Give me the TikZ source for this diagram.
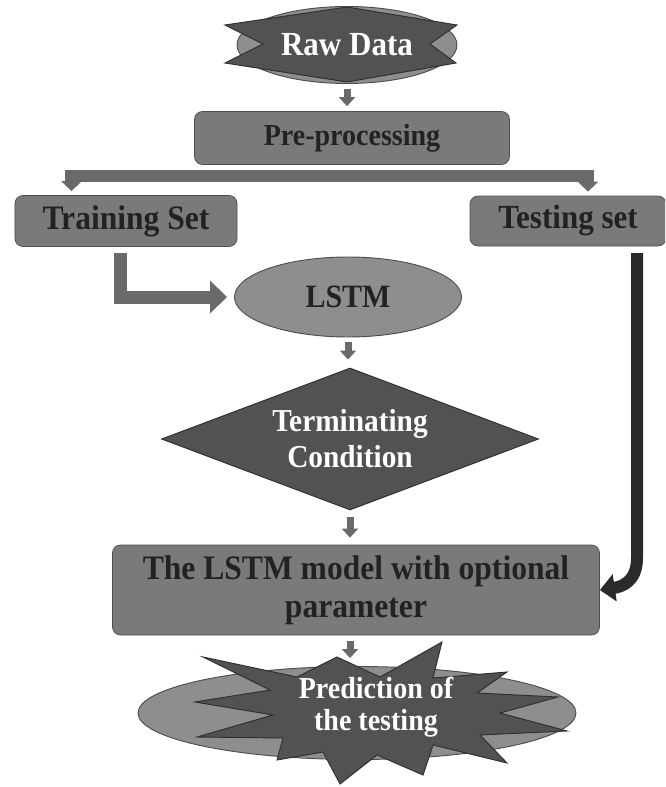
\documentclass[tikz,border=0pt]{standalone}
\usepackage{fontspec}
\setmainfont[FakeStretch=0.92]{Liberation Serif}
\usetikzlibrary{arrows.meta,shapes.geometric}

\definecolor{boxgray}{HTML}{7A7A7A}
\definecolor{edgegray}{HTML}{4E4E4E}
\definecolor{ovalgray}{HTML}{8E8E8E}
\definecolor{stargray}{HTML}{525252}
\definecolor{arrowgray}{HTML}{6A6A6A}
\definecolor{darkarrow}{HTML}{2A2A2A}
\definecolor{textdark}{HTML}{222222}

\begin{document}
\begin{tikzpicture}[x=0.03cm, y=-0.03cm,
  box/.style={draw=edgegray, fill=boxgray, rounded corners=0.24cm, line width=0.6pt,
    text=textdark, align=center, inner sep=0pt},
  oval/.style={ellipse, draw=edgegray, fill=ovalgray, line width=0.8pt, inner sep=0pt},
  burst/.style={draw=edgegray!60!black, fill=stargray, line width=0.8pt, line join=miter},
  whitetext/.style={text=white, align=center, inner sep=0pt},
  smallarrow/.style={draw=arrowgray, line width=0.21cm, -{Triangle[width=0.48cm,length=0.27cm]}},
  splitarrow/.style={draw=arrowgray, line width=0.36cm, -{Triangle[width=0.6cm,length=0.3cm]}},
  elbowarrow/.style={draw=arrowgray, line width=0.39cm, -{Triangle[width=0.96cm,length=0.51cm]}},
  curvearrow/.style={draw=darkarrow, line width=0.36cm, -{Triangle[width=0.8cm,length=0.45cm]}}
]
  \useasboundingbox (0,0) rectangle (665,787);
  \clip (0,0) rectangle (665,787);

  \node[oval, minimum width=6.6cm, minimum height=2.31cm] (rawoval) at (347,45) {};
  \filldraw[burst] (225,25) -- (347,7) -- (457,25) -- (430,44) -- (456,63) -- (347,82)
    -- (225,63) -- (263,44) -- cycle;
  \node[whitetext, font=\bfseries\fontsize{28.8}{34}\selectfont] (raw) at (347,45) {Raw Data};

  \node[box, minimum width=9.45cm, minimum height=1.59cm,
    font=\bfseries\fontsize{26}{31}\selectfont] (pre) at (352,138) {Pre-processing};
  \node[box, minimum width=6.66cm, minimum height=1.53cm,
    font=\bfseries\fontsize{29.3}{34}\selectfont] (train) at (126,221) {Training Set};
  \node[box, minimum width=5.88cm, minimum height=1.5cm,
    font=\bfseries\fontsize{28.8}{34}\selectfont] (test) at (568,221) {Testing set};

  \node[oval, minimum width=6.81cm, minimum height=2.4cm, text=textdark,
    font=\bfseries\fontsize{27.8}{33}\selectfont] (lstm) at (348,297) {LSTM};

  \node[diamond, aspect=2.65, draw=edgegray!60!black, fill=stargray, line width=0.8pt,
    minimum width=11.31cm, minimum height=4.26cm, whitetext,
    font=\bfseries\fontsize{27.2}{30.7}\selectfont] (cond) at (350,439) {Terminating\\Condition};

  \node[box, minimum width=14.61cm, minimum height=2.7cm,
    font=\bfseries\fontsize{29.3}{32.4}\selectfont] (model) at (356,590)
    {The LSTM model with optional\\parameter};

  \node[oval, minimum width=13.14cm, minimum height=2.79cm] (predoval) at (357,713) {};
  \filldraw[burst] (203,657) -- (297,677) -- (337,657) -- (380,677) -- (442,642)
    -- (433,678) -- (507,672) -- (477,693) -- (558,697) -- (500,713) -- (567,731)
    -- (480,735) -- (507,763) -- (433,745) -- (423,775) -- (377,755) -- (340,784)
    -- (323,752) -- (277,760) -- (283,738) -- (197,737) -- (273,715) -- (195,702)
    -- (270,690) -- cycle;
  \node[whitetext, font=\bfseries\fontsize{26}{27.5}\selectfont] (pred) at (376,707)
    {Prediction of\\the testing};

  \draw[smallarrow, shorten <=0.15cm, shorten >=0.15cm] (rawoval.south) -- (rawoval.south |- pre.north);

  \coordinate (split) at (352,176);
  \draw[splitarrow, shorten >=0.12cm] (split) -| ([xshift=-1.635cm]train.north);
  \draw[splitarrow, shorten >=0.12cm] (split) -| ([xshift=0.6cm]test.north);

  \draw[elbowarrow, shorten <=0.18cm, shorten >=0.21cm] ([xshift=-0.18cm]train.south) |- (lstm.west);

  \draw[smallarrow, shorten <=0.15cm, shorten >=0.24cm] (lstm.south) -- (lstm.south |- cond.north);
  \draw[smallarrow, shorten <=0.21cm, shorten >=0.21cm] (cond.south) -- (cond.south |- model.north);
  \draw[smallarrow, shorten <=0.18cm, shorten >=0.24cm] (model.south -| cond.south) -- (cond.south |- predoval.north);

  \coordinate (bend) at (637,558);
  \draw[curvearrow, shorten <=0.2cm] ([xshift=2.07cm]test.south) -- (bend)
    .. controls (637,583) and (620,587) .. (model.east);
\end{tikzpicture}
\end{document}
